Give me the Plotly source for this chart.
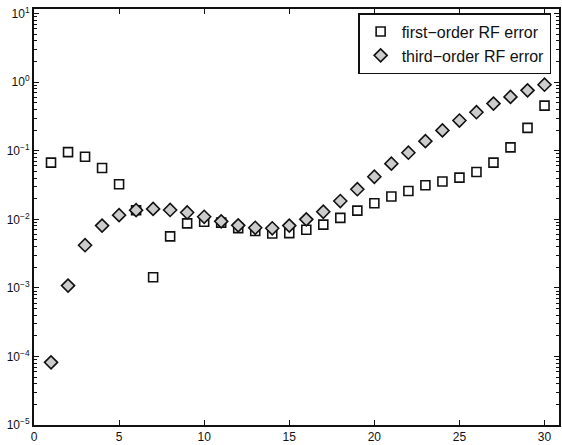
import plotly.graph_objects as go

# Iteration index
n = list(range(1, 31))

# Error of the first-order RF approximation
first_order = [0.0671, 0.0957, 0.082, 0.056, 0.0325, 0.0136, 0.00143, 0.00565, 0.00873, 0.0092,
               0.00895, 0.00745, 0.00675, 0.0062, 0.0063, 0.00705, 0.00837, 0.0105, 0.0134, 0.0172,
               0.0215, 0.0259, 0.0314, 0.0356, 0.0406, 0.049, 0.0671, 0.112, 0.216, 0.456]

# Error of the third-order RF approximation
third_order = [8.2e-5, 0.00108, 0.00419, 0.0081, 0.0115, 0.0136, 0.0142, 0.0137, 0.0126, 0.0109,
               0.00935, 0.00818, 0.00753, 0.0074, 0.0081, 0.0100, 0.0129, 0.0185, 0.0275, 0.0418,
               0.0649, 0.0937, 0.138, 0.198, 0.276, 0.365, 0.488, 0.611, 0.762, 0.92]

x_ticks = [0, 5, 10, 15, 20, 25, 30]
y_exponents = [-5, -4, -3, -2, -1, 0, 1]

y_tickvals = [10.0 ** e for e in y_exponents]
y_ticktext = ["10<sup>%s</sup>" % (str(e).replace("-", "\u2212")) for e in y_exponents]
y_minor = [m * 10.0 ** e for e in y_exponents[:-1] for m in range(2, 10)]

fig = go.Figure()
fig.add_trace(go.Scatter(
    x=n, y=first_order, mode="markers", name="first\u2212order RF error",
    marker=dict(symbol="square", size=9, color="white",
                line=dict(color="#111111", width=1.6)),
))
fig.add_trace(go.Scatter(
    x=n, y=third_order, mode="markers", name="third\u2212order RF error",
    marker=dict(symbol="diamond", size=10, color="#cccccc",
                line=dict(color="#111111", width=1.6)),
))

axis_font = dict(family="Liberation Sans, Arial, sans-serif", size=12, color="#111111")

fig.update_layout(
    width=562, height=445,
    margin=dict(l=34, r=1, t=9, b=18),
    paper_bgcolor="white", plot_bgcolor="white",
    showlegend=True,
    legend=dict(
        x=0.985, y=0.99, xanchor="right", yanchor="top",
        bgcolor="white", bordercolor="#111111", borderwidth=1.5,
        font=dict(family="Liberation Sans, Arial, sans-serif", size=16, color="#111111"),
        itemwidth=32, tracegroupgap=0,
    ),
    xaxis=dict(
        range=[0, 30.85], tickmode="array", tickvals=x_ticks,
        ticks="inside", ticklen=5, tickwidth=1, tickcolor="#111111",
        showline=True, linecolor="#111111", linewidth=2, mirror="ticks",
        showgrid=False, zeroline=False, tickfont=axis_font,
    ),
    yaxis=dict(
        type="log", range=[-5, 1.068], tickmode="array",
        tickvals=y_tickvals, ticktext=y_ticktext,
        ticks="inside", ticklen=5, tickwidth=1, tickcolor="#111111",
        minor=dict(tickmode="array", tickvals=y_minor, ticks="inside",
                   ticklen=3, tickwidth=1, tickcolor="#111111", showgrid=False),
        showline=True, linecolor="#111111", linewidth=2, mirror="ticks",
        showgrid=False, zeroline=False, tickfont=axis_font,
    ),
)

fig.write_html("out.html")
